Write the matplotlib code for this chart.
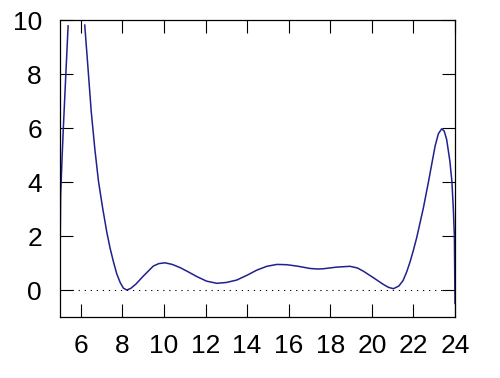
import matplotlib
matplotlib.use('Agg')
import matplotlib.pyplot as plt

# values
# left branch: rises steeply and leaves the plot at the top
rise_x = [5.00, 5.03, 5.10, 5.16, 5.28, 5.39]
rise_y = [1.0, 3.5, 4.9, 6.0, 8.0, 9.8]

# main branch: comes back in from the top and runs to x = 24
main_x = [6.19, 6.35, 6.50, 6.68, 6.85, 7.05, 7.25, 7.41, 7.57, 7.73,
          7.90, 8.05, 8.21, 8.40, 8.65, 9.01, 9.49, 9.75, 10.05, 10.40,
          10.78, 11.18, 11.58, 12.05, 12.54, 13.00, 13.50, 14.00, 14.47, 14.95,
          15.43, 15.90, 16.39, 17.03, 17.40, 17.67, 18.30, 18.95, 19.30, 19.59,
          19.85, 20.07, 20.55, 20.80, 21.04, 21.30, 21.50, 21.68, 21.84, 22.00,
          22.16, 22.48, 22.72, 23.04, 23.20, 23.36, 23.48, 23.60, 23.75, 23.85,
          23.92, 23.97, 24.00]
main_y = [9.83, 8.20, 6.64, 5.20, 4.04, 3.05, 2.15, 1.55, 1.05, 0.60,
          0.27, 0.07, 0.00, 0.06, 0.22, 0.52, 0.89, 0.98, 1.01, 0.95,
          0.83, 0.67, 0.50, 0.33, 0.25, 0.28, 0.37, 0.55, 0.74, 0.88,
          0.95, 0.94, 0.89, 0.80, 0.78, 0.79, 0.85, 0.88, 0.82, 0.70,
          0.57, 0.46, 0.21, 0.10, 0.05, 0.15, 0.35, 0.68, 1.05, 1.48,
          1.95, 3.05, 4.00, 5.33, 5.80, 5.98, 5.90, 5.58, 4.80, 4.04,
          3.00, 2.00, -0.50]

x_ticks = [6, 8, 10, 12, 14, 16, 18, 20, 22, 24]
y_ticks = [0, 2, 4, 6, 8, 10]

plt.rcParams['font.family'] = ['Liberation Sans', 'DejaVu Sans']

fig = plt.figure(figsize=(5.0, 3.78), dpi=100)
ax = fig.add_axes([0.12, 0.1614, 0.79, 0.7844])

line_color = '#20208f'
ax.plot(rise_x, rise_y, color=line_color, lw=1.1)
ax.plot(main_x, main_y, color=line_color, lw=1.1)

# dotted zero line
ax.axhline(0, color='black', lw=0.75, linestyle=(0, (1.2, 4.6)))

ax.set_xlim(5, 24)
ax.set_ylim(-1, 10)
ax.set_xticks(x_ticks)
ax.set_yticks(y_ticks)
ax.tick_params(direction='in', length=9.5, width=0.8, top=True, right=True,
               labelsize=19)
ax.tick_params(axis='x', pad=12.5)
ax.tick_params(axis='y', pad=13)
for s in ax.spines.values():
    s.set_linewidth(0.9)

fig.savefig('out.png', dpi=100)
